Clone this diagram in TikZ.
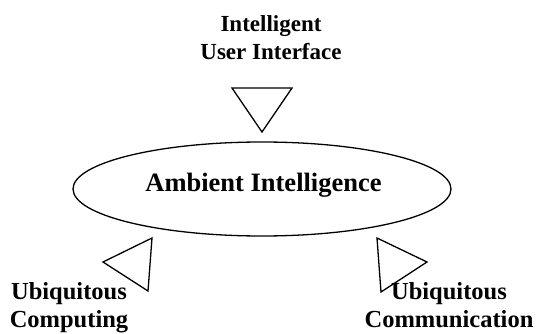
\documentclass[tikz,border=0pt]{standalone}
\usepackage{fontspec}
\setmainfont{Liberation Serif}
\usetikzlibrary{shapes.geometric}
\tikzset{
  lbl/.style={font=\bfseries\fontsize{23}{28}\selectfont, align=center, inner sep=0pt, anchor=base},
  lblb/.style={font=\bfseries\fontsize{24.5}{28}\selectfont, align=center, inner sep=0pt, anchor=base},
  tri/.style={draw=black, line width=1.3pt, line join=miter},
  oval/.style={draw=black, line width=1.3pt, ellipse, minimum width=378pt, minimum height=94pt, inner sep=0pt}
}
\begin{document}
\begin{tikzpicture}[x=1pt,y=-1pt]
\useasboundingbox (0,0) rectangle (536,334);
\node[oval] (ai) at (262,189) {};
\node[font=\bfseries\fontsize{26.5}{30}\selectfont, inner sep=0pt, anchor=base] (ait) at (263.5,192) {Ambient Intelligence};
\node[lbl] (iui) at (271,60) {Intelligent\\User Interface};
\node[lblb] (uc) at (69,327) {Ubiquitous\\Computing};
\node[lblb] (ucm) at (449,327) {Ubiquitous\\Communication};
\draw[tri] (232,88) -- (292,88) -- (262,132) -- cycle;
\draw[tri] (152,238) -- (103,262) -- (148,291) -- cycle;
\draw[tri] (377,238) -- (427,262) -- (381,292) -- cycle;
\end{tikzpicture}
\end{document}
